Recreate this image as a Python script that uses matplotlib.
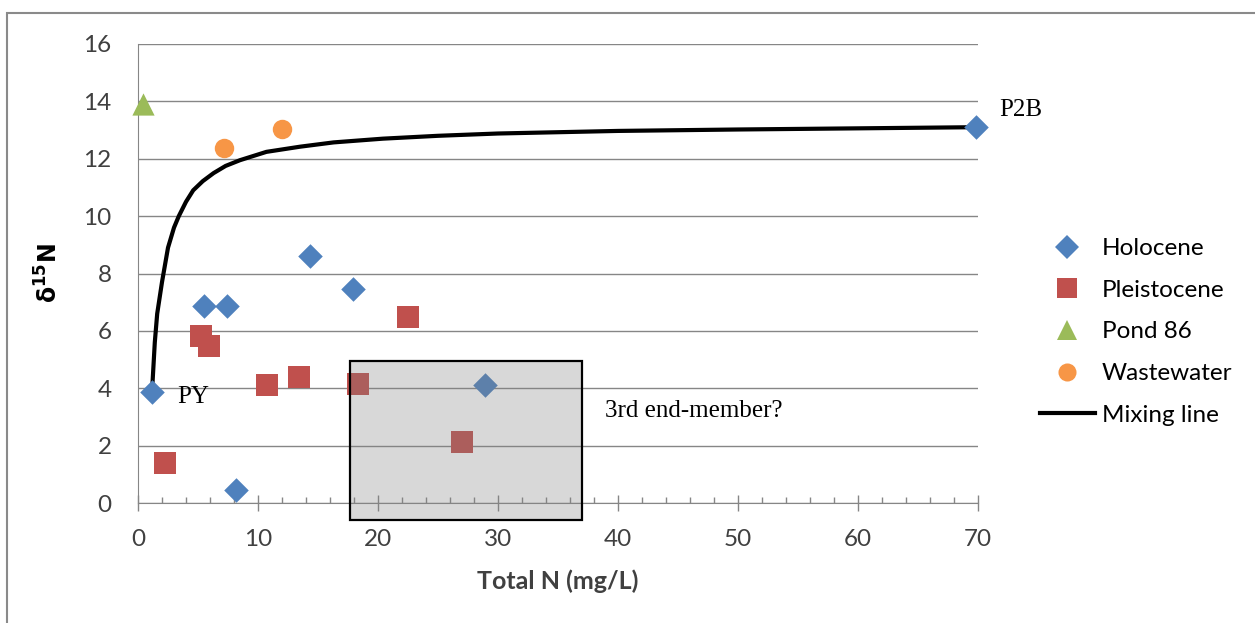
import matplotlib
matplotlib.use('Agg')
import matplotlib.pyplot as plt
from matplotlib.patches import Rectangle
from matplotlib.lines import Line2D

# Datos
holo_x = [1.17, 5.5, 7.44, 8.17, 14.33, 17.9, 28.95, 69.8]
holo_y = [3.86, 6.85, 6.85, 0.44, 8.62, 7.46, 4.13, 13.09]

pleis_x = [2.28, 5.25, 5.94, 10.78, 13.44, 18.3, 22.5, 27.0]
pleis_y = [1.38, 5.82, 5.49, 4.10, 4.38, 4.15, 6.47, 2.13]

pond_x = [0.45]
pond_y = [13.9]

ww_x = [7.14, 11.97]
ww_y = [12.38, 13.03]

mix_x = [1.17, 1.4, 1.6, 2.0, 2.5, 3.0, 3.4, 4.0, 4.6, 5.4, 6.3, 7.3, 8.5, 10.7, 13.5, 16.3, 20.4, 25, 30, 40, 50, 60, 69.8]
mix_y = [3.9, 5.6, 6.6, 7.7, 8.9, 9.6, 10.0, 10.5, 10.9, 11.22, 11.5, 11.75, 11.95, 12.24, 12.42, 12.57, 12.7, 12.8, 12.88, 12.97, 13.02, 13.06, 13.1]

# caja "3rd end-member?"
box_x0, box_x1 = 17.67, 37.0
box_y0, box_y1 = -0.6, 4.95

tick_font = 'Lato'
txt_col = '#404040'
grid_col = '#868686'

fig = plt.figure(figsize=(12.55, 6.23), dpi=100)
ax = fig.add_axes([138/1255, 1-503/623, 840/1255, 459/623])

# borde exterior
fig.patches.append(Rectangle((7/1255, -0.1), 1.2, 1-13/623+0.1, transform=fig.transFigure,
                             fill=False, edgecolor='#8a8a8a', linewidth=1.5))

ax.set_xlim(0, 70)
ax.set_ylim(0, 16)
ax.set_xticks(range(0, 71, 10))
ax.set_xticks(range(0, 71, 2), minor=True)
ax.set_yticks(range(0, 17, 2))
ax.grid(axis='y', color=grid_col, linewidth=1.0)
ax.set_axisbelow(True)
for s in ['top', 'right']:
    ax.spines[s].set_visible(False)
ax.spines['left'].set_color(grid_col)
ax.spines['bottom'].set_color(grid_col)
ax.tick_params(axis='x', which='major', direction='inout', length=11, width=1, color=grid_col,
               labelsize=17.5, labelcolor=txt_col, pad=13)
ax.tick_params(axis='x', which='minor', direction='in', length=4.5, width=1, color=grid_col)
ax.tick_params(axis='y', length=0, labelsize=17.5, labelcolor=txt_col, pad=19)
for lab in ax.get_xticklabels() + ax.get_yticklabels():
    lab.set_fontfamily(tick_font)

ax.plot(mix_x, mix_y, color='black', linewidth=3, zorder=3, solid_capstyle='round')
ax.scatter(holo_x, holo_y, marker='D', s=12.5**2, color='#4f81bd', zorder=4, linewidths=0, clip_on=False)
ax.scatter(pleis_x, pleis_y, marker='s', s=15.5**2, color='#c0504d', zorder=4, linewidths=0, clip_on=False)
ax.scatter(pond_x, pond_y, marker='^', s=16**2, color='#9bbb59', zorder=4, linewidths=0, clip_on=False)
ax.scatter(ww_x, ww_y, marker='o', s=14**2, color='#f79646', zorder=4, linewidths=0, clip_on=False)

ax.add_patch(Rectangle((box_x0, box_y0), box_x1-box_x0, box_y1-box_y0,
                       facecolor=(0.5, 0.5, 0.5, 0.3), edgecolor='black', linewidth=1.6,
                       clip_on=False, zorder=5))

ax.text(71.8, 13.48, 'P2B', family='Liberation Serif', fontsize=18, va='baseline', clip_on=False)
ax.text(3.25, 3.48, 'PY', family='Liberation Serif', fontsize=18, va='baseline')
ax.text(38.9, 3.0, '3rd end-member?', family='Liberation Serif', fontsize=18, va='baseline')

ax.set_xlabel('Total N (mg/L)', fontsize=18, fontweight='bold', family=tick_font, color=txt_col, labelpad=14)
ax.set_ylabel(r'$\mathbf{\delta^{15}N}$', fontsize=17, color='black', labelpad=15)

handles = [
    Line2D([], [], marker='D', linestyle='none', markersize=12, color='#4f81bd', markeredgewidth=0),
    Line2D([], [], marker='s', linestyle='none', markersize=14, color='#c0504d', markeredgewidth=0),
    Line2D([], [], marker='^', linestyle='none', markersize=15, color='#9bbb59', markeredgewidth=0),
    Line2D([], [], marker='o', linestyle='none', markersize=13, color='#f79646', markeredgewidth=0),
    Line2D([], [], color='black', linewidth=3),
]
labels = ['Holocene', 'Pleistocene', 'Pond 86', 'Wastewater', 'Mixing line']
leg = fig.legend(handles, labels, loc='upper left', bbox_to_anchor=(1040/1255, 1-238/623),
                 frameon=False, borderpad=0, borderaxespad=0, handlelength=2.25,
                 handletextpad=0.3, labelspacing=0.85,
                 prop={'family': tick_font, 'size': 17.5})
for t in leg.get_texts():
    t.set_color('black')

fig.savefig('out.png', dpi=100)
